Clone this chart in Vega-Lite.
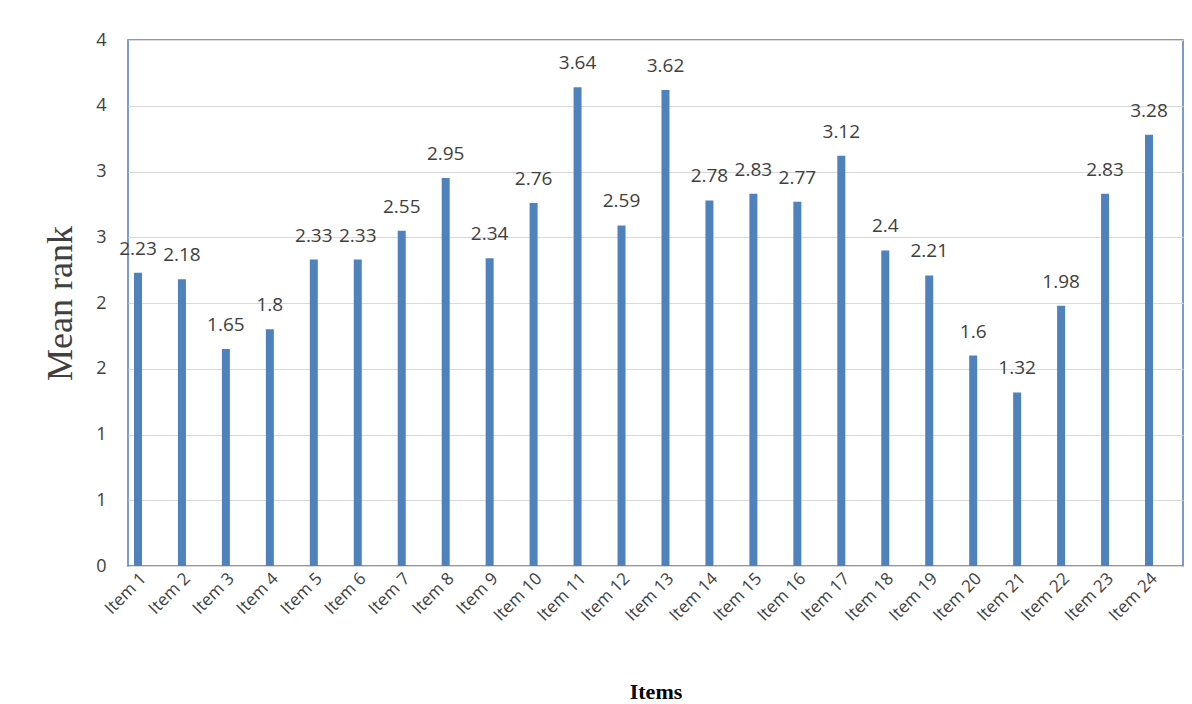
{
  "$schema": "https://vega.github.io/schema/vega-lite/v6.json",
  "width": 1055,
  "height": 526,
  "autosize": "none",
  "padding": {"left": 128, "top": 40, "right": 9, "bottom": 138},
  "background": "white",
  "config": {
    "view": {"stroke": "#4a7ebb", "strokeWidth": 1.5},
    "axis": {"labelFont": "Open Sans", "labelColor": "#404040", "domain": false, "ticks": false}
  },
  "data": {
    "values": [
      {"item": "Item 1", "rank": 2.23}, {"item": "Item 2", "rank": 2.18},
      {"item": "Item 3", "rank": 1.65}, {"item": "Item 4", "rank": 1.8},
      {"item": "Item 5", "rank": 2.33}, {"item": "Item 6", "rank": 2.33},
      {"item": "Item 7", "rank": 2.55}, {"item": "Item 8", "rank": 2.95},
      {"item": "Item 9", "rank": 2.34}, {"item": "Item 10", "rank": 2.76},
      {"item": "Item 11", "rank": 3.64}, {"item": "Item 12", "rank": 2.59},
      {"item": "Item 13", "rank": 3.62}, {"item": "Item 14", "rank": 2.78},
      {"item": "Item 15", "rank": 2.83}, {"item": "Item 16", "rank": 2.77},
      {"item": "Item 17", "rank": 3.12}, {"item": "Item 18", "rank": 2.4},
      {"item": "Item 19", "rank": 2.21}, {"item": "Item 20", "rank": 1.6},
      {"item": "Item 21", "rank": 1.32}, {"item": "Item 22", "rank": 1.98},
      {"item": "Item 23", "rank": 2.83}, {"item": "Item 24", "rank": 3.28}
    ]
  },
  "encoding": {
    "x": {
      "field": "item", "type": "nominal", "sort": null,
      "axis": {"labelAngle": -45, "labelFontSize": 17, "title": "Items", "titleFont": "Liberation Serif",
        "titleFontSize": 22, "titleFontWeight": "bold", "titleColor": "black", "titlePadding": 58, "labelPadding": 4, "labelOffset": -12}
    },
    "y": {
      "field": "rank", "type": "quantitative",
      "scale": {"domain": [0, 4], "nice": false},
      "axis": {"values": [0, 0.5, 1, 1.5, 2, 2.5, 3, 3.5, 4], "format": ".0f", "labelFontSize": 18,
        "labelPadding": 22, "title": "Mean rank", "titleFont": "Liberation Serif", "titleFontSize": 36,
        "titleFontWeight": "normal", "titleColor": "#404040", "titlePadding": 16, "gridColor": "#d9d9d9"}
    }
  },
  "layer": [
    {"mark": {"type": "bar", "width": 8, "color": "#4f81bd", "xOffset": -12}},
    {"mark": {"type": "text", "dy": -24, "dx": -12, "fontSize": 19, "font": "Open Sans", "color": "#404040"},
     "encoding": {"text": {"field": "rank", "type": "quantitative"}}}
  ]
}
